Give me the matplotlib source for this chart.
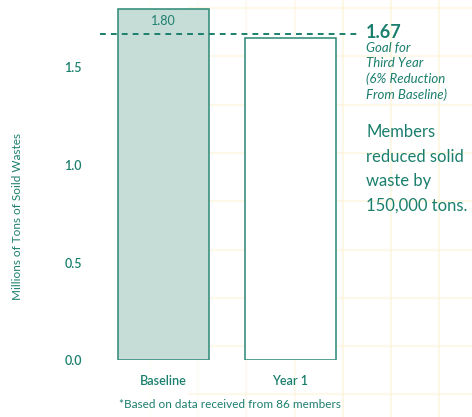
import matplotlib
matplotlib.use("Agg")
import matplotlib.pyplot as plt
from matplotlib.lines import Line2D
import numpy as np

# Datos
CATEGORIAS = ["Baseline", "Year 1"]
TONELADAS = [1.80, 1.65]          # millones de toneladas
META = 1.67
ETIQUETA_BASE = "1.80"
YTICKS = [0.0, 0.5, 1.0, 1.5]

TEAL = "#1b7f6d"
RELLENO = "#c6dcd6"
BORDE = "#3a917f"

plt.rcParams["font.family"] = ["Lato", "DejaVu Sans"]

W, H = 472, 417
fig = plt.figure(figsize=(W / 100, H / 100), dpi=100)
fig.patch.set_facecolor("white")

# Cuadrícula tenue de fondo (papel)
paso = 48.3
for gx in np.arange(198 - 2 * paso, W, paso):
    a = float(np.clip((gx - 120) / 220, 0.0, 1.0))
    if a > 0:
        fig.add_artist(Line2D([gx / W, gx / W], [0, 1], color="#fdf1cf",
                              alpha=0.5 * a, lw=1.5, zorder=0))
for gy in np.arange(8, H, paso):
    fig.add_artist(Line2D([0.40, 1], [1 - gy / H, 1 - gy / H], color="#fdf1cf",
                          alpha=0.45, lw=1.5, zorder=0))

# Ejes: y=0 en 360 px, borde superior en 0 px, de 100 a 360 px en x
ax = fig.add_axes([100 / W, (H - 360) / H, 260 / W, 360 / H])
ax.set_facecolor("none")
ax.set_ylim(0, 360 / 195)
ax.set_xlim(-0.5, (360 - 163.5) / 127)

x = np.arange(len(CATEGORIAS))
ax.bar(x[0], TONELADAS[0], width=0.717, color=RELLENO, edgecolor=BORDE, linewidth=1.2, zorder=2)
ax.bar(x[1], TONELADAS[1], width=0.717, color="white", edgecolor=BORDE, linewidth=1.2, zorder=2)
ax.text(x[0], TONELADAS[0] - 0.03, ETIQUETA_BASE, ha="center", va="top",
        fontsize=9, color=TEAL)

ax.axhline(META, color=TEAL, lw=1.4, ls=(0, (3, 2.6)), zorder=3, clip_on=False)

for s in ax.spines.values():
    s.set_visible(False)
ax.set_yticks(YTICKS)
ax.set_yticklabels([f"{v:.1f}" for v in YTICKS])
ax.tick_params(axis="y", length=0, pad=13, labelsize=9, labelcolor=TEAL)
ax.set_xticks(x)
ax.set_xticklabels(CATEGORIAS)
ax.tick_params(axis="x", length=0, pad=11, labelsize=9, labelcolor=TEAL)
for t in ax.get_xticklabels() + ax.get_yticklabels():
    t.set_fontweight("semibold")

ax.set_ylabel("Millions of Tons of Soild Wastes", fontsize=8.5, color=TEAL, labelpad=0)
ax.yaxis.set_label_coords(-77 / 260, (360 - 216) / 360)

# Anotaciones a la derecha
fig.text(366 / W, 1 - 33 / H, f"{META:.2f}", ha="left", va="center",
         fontsize=13, fontweight="bold", color=TEAL)
fig.text(366 / W, 1 - 42 / H, "Goal for\nThird Year\n(6% Reduction\nFrom Baseline)",
         ha="left", va="top", fontsize=9.5, style="italic", color=TEAL, linespacing=1.32)
fig.text(366 / W, 1 - 124 / H, "Members\nreduced solid\nwaste by\n150,000 tons.",
         ha="left", va="top", fontsize=12, color=TEAL, linespacing=1.66)

fig.text(230 / W, 1 - 405 / H, "*Based on data received from 86 members",
         ha="center", va="center", fontsize=8.5, color=TEAL)

fig.savefig("out.png", dpi=100)
